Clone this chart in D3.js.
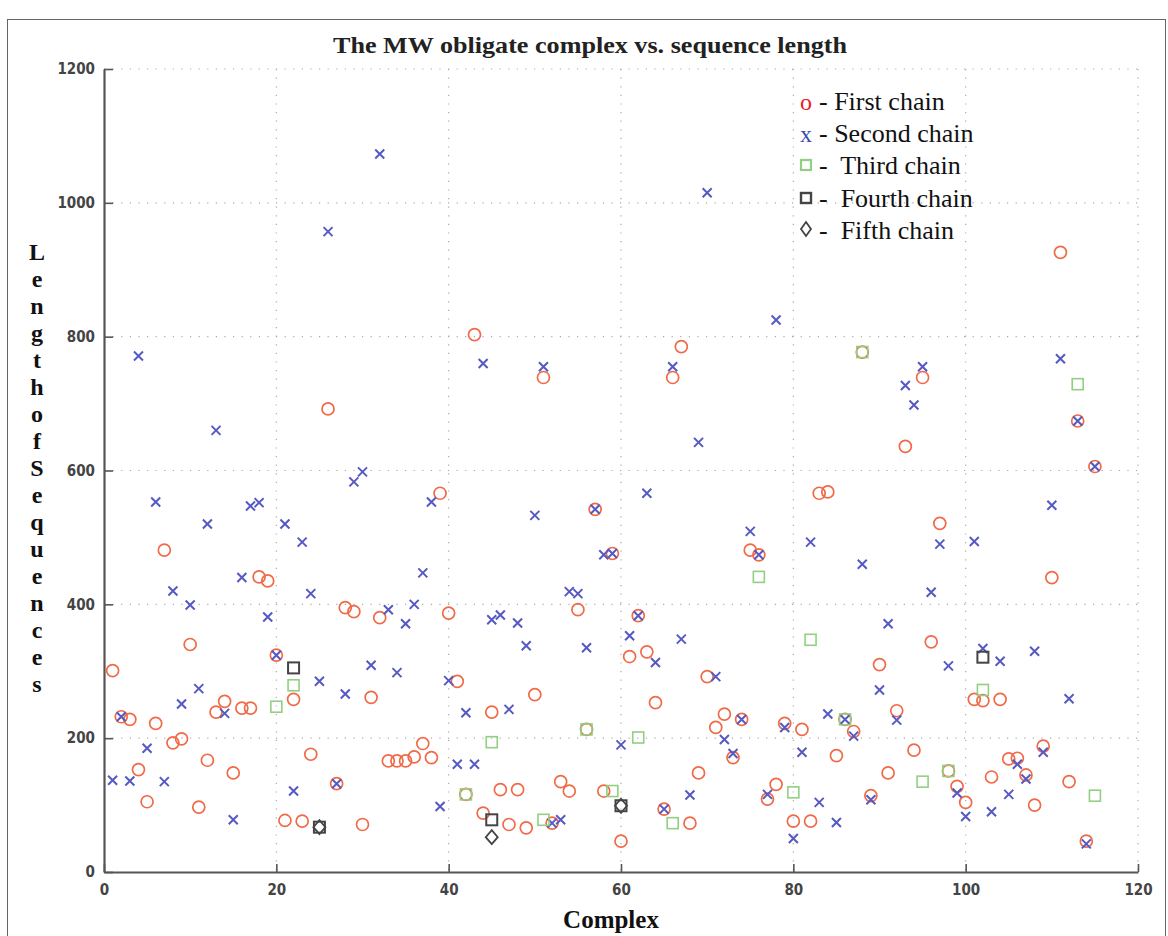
<!DOCTYPE html>
<html>
<head>
<meta charset="utf-8">
<script src="https://cdn.jsdelivr.net/npm/d3@7"></script>
<style>
  body { margin: 0; background: #fff; }
  .tick text { font-family: "DejaVu Sans Condensed", "Liberation Sans Narrow", sans-serif; font-weight: bold; font-size: 15px; fill: #444; }
</style>
</head>
<body>
<div class="vis-scatter"></div>
<script>
// complex index (x) and chain lengths (y)
const complexIds = [1,2,3,4,5,6,7,8,9,10,11,12,13,14,15,16,17,18,19,20,21,22,23,24,25,26,27,28,29,30,
  31,32,33,34,35,36,37,38,39,40,41,42,43,44,45,46,47,48,49,50,51,52,53,54,55,56,57,58,59,60,
  61,62,63,64,65,66,67,68,69,70,71,72,73,74,75,76,77,78,79,80,81,82,83,84,85,86,87,88,89,90,
  91,92,93,94,95,96,97,98,99,100,101,102,103,104,105,106,107,108,109,110,111,112,113,114,115];

const firstChain = [301,232,228,153,105,222,481,193,199,340,97,167,239,255,148,245,245,441,435,324,
  77,258,76,176,null,692,132,395,389,71,261,380,166,166,166,172,192,171,566,387,
  285,116,803,88,239,123,71,123,66,265,739,73,135,121,392,213,542,121,476,46,
  322,383,329,253,94,739,785,73,148,292,216,236,171,228,481,474,109,131,222,76,
  213,76,566,568,174,228,210,777,114,310,148,241,636,182,739,344,521,151,128,104,
  258,256,142,258,169,170,145,100,188,440,926,135,674,46,606];

const secondChain = [137,232,136,771,185,553,135,420,251,399,274,520,660,237,78,440,547,552,381,324,
  520,121,493,416,285,957,132,266,583,598,309,1073,392,298,371,400,447,553,98,286,
  161,238,161,760,377,384,243,372,338,533,755,73,78,419,416,335,542,474,476,190,
  353,383,566,313,94,755,348,115,642,1015,292,198,177,228,509,474,116,825,216,50,
  179,493,104,236,74,228,203,460,108,272,371,227,727,698,755,418,490,308,118,83,
  494,334,90,315,116,161,139,330,179,548,767,259,674,42,606];

const thirdX = [20,22,42,45,51,56,59,62,66,76,80,82,86,88,95,98,102,113,115];
const thirdY = [247,279,116,194,78,213,121,201,73,441,119,347,228,777,135,151,272,729,114];

const fourthX = [22,25,45,60,102];
const fourthY = [305,67,78,99,321];

const fifthX = [25,45,60];
const fifthY = [67,52,99];

const xTicks = [0,20,40,60,80,100,120];
const yTicks = [0,200,400,600,800,1000,1200];

const yLabelLetters = ['L','e','n','g','t','h','o','f','S','e','q','u','e','n','c','e','s'];

const draw = () => {
  const W = 1168, H = 936;
  const margin = { top: 69, right: 30, bottom: 64, left: 104 };
  const width = W - margin.left - margin.right;
  const height = H - margin.top - margin.bottom;

  const root = d3.select('.vis-scatter')
    .append('svg')
    .attr('width', W)
    .attr('height', H);

  // outer frame
  root.append('rect')
    .attr('x', 7.5).attr('y', 19.5)
    .attr('width', 1158).attr('height', 940)
    .attr('fill', 'none').attr('stroke', '#666').attr('stroke-width', 1);

  const svg = root.append('g')
    .attr('transform', `translate(${margin.left},${margin.top})`);

  const x = d3.scaleLinear().domain([0, 120]).range([0, width]);
  const y = d3.scaleLinear().domain([0, 1200]).range([height, 0]);

  // grid
  svg.append('g').selectAll('line')
    .data(xTicks.filter((d) => d > 0))
    .enter().append('line')
    .attr('x1', (d) => x(d)).attr('x2', (d) => x(d))
    .attr('y1', 0).attr('y2', height)
    .attr('stroke', '#aaa').attr('stroke-width', 1.2)
    .attr('stroke-dasharray', '1.2,7.4');
  svg.append('g').selectAll('line')
    .data(yTicks.filter((d) => d > 0))
    .enter().append('line')
    .attr('x1', 0).attr('x2', width)
    .attr('y1', (d) => y(d)).attr('y2', (d) => y(d))
    .attr('stroke', '#aaa').attr('stroke-width', 1.2)
    .attr('stroke-dasharray', '1.2,7.4');

  // axes
  const xAxis = svg.append('g')
    .attr('transform', `translate(0,${height})`)
    .call(d3.axisBottom(x).tickValues(xTicks).tickFormat(d3.format('d'))
      .tickSizeInner(-8).tickSizeOuter(0).tickPadding(12));
  const yAxis = svg.append('g')
    .call(d3.axisLeft(y).tickValues(yTicks).tickFormat(d3.format('d'))
      .tickSizeInner(-9).tickSizeOuter(0).tickPadding(9));
  [xAxis, yAxis].forEach((a) => {
    a.select('.domain').attr('stroke', '#555').attr('stroke-width', 2.2);
    a.selectAll('.tick line').attr('stroke', '#555').attr('stroke-width', 1.6);
  });

  // first chain: circles
  const first = complexIds.map((c, i) => ({ c, v: firstChain[i] })).filter((d) => d.v !== null);
  svg.append('g').selectAll('circle')
    .data(first)
    .enter().append('circle')
    .attr('cx', (d) => x(d.c)).attr('cy', (d) => y(d.v))
    .attr('r', 6)
    .attr('fill', 'none').attr('stroke', '#f06a48').attr('stroke-width', 1.7);

  // second chain: crosses
  const second = complexIds.map((c, i) => ({ c, v: secondChain[i] }));
  svg.append('g').selectAll('path')
    .data(second)
    .enter().append('path')
    .attr('d', 'M-4.5,-4.5L4.5,4.5M-4.5,4.5L4.5,-4.5')
    .attr('transform', (d) => `translate(${x(d.c)},${y(d.v)})`)
    .attr('stroke', '#5559c2').attr('stroke-width', 2).attr('fill', 'none');

  // third chain: green squares
  svg.append('g').selectAll('rect')
    .data(thirdX.map((c, i) => ({ c, v: thirdY[i] })))
    .enter().append('rect')
    .attr('x', (d) => x(d.c) - 5.5).attr('y', (d) => y(d.v) - 5.5)
    .attr('width', 11).attr('height', 11)
    .attr('fill', 'none').attr('stroke', '#92cf82').attr('stroke-width', 1.6);

  // fourth chain: dark squares
  svg.append('g').selectAll('rect')
    .data(fourthX.map((c, i) => ({ c, v: fourthY[i] })))
    .enter().append('rect')
    .attr('x', (d) => x(d.c) - 5.5).attr('y', (d) => y(d.v) - 5.5)
    .attr('width', 11).attr('height', 11)
    .attr('fill', 'none').attr('stroke', '#444').attr('stroke-width', 2);

  // fifth chain: diamonds
  svg.append('g').selectAll('path')
    .data(fifthX.map((c, i) => ({ c, v: fifthY[i] })))
    .enter().append('path')
    .attr('d', 'M0,-7L6,0L0,7L-6,0Z')
    .attr('transform', (d) => `translate(${x(d.c)},${y(d.v)})`)
    .attr('fill', 'none').attr('stroke', '#444').attr('stroke-width', 1.8);

  // title
  root.append('text')
    .attr('x', 590).attr('y', 53)
    .attr('text-anchor', 'middle')
    .attr('font-family', '"Liberation Serif", serif')
    .attr('font-weight', 'bold')
    .attr('font-size', 23)
    .attr('textLength', 514).attr('lengthAdjust', 'spacingAndGlyphs')
    .attr('fill', '#222')
    .text('The MW obligate complex vs. sequence length');

  // x label
  root.append('text')
    .attr('x', 611).attr('y', 928)
    .attr('text-anchor', 'middle')
    .attr('font-family', '"Liberation Serif", serif')
    .attr('font-weight', 'bold')
    .attr('font-size', 25)
    .attr('fill', '#111')
    .text('Complex');

  // y label, stacked letters
  root.append('g').selectAll('text')
    .data(yLabelLetters)
    .enter().append('text')
    .attr('x', 37).attr('y', (d, i) => 260 + i * 27)
    .attr('text-anchor', 'middle')
    .attr('font-family', '"Liberation Serif", serif')
    .attr('font-weight', 'bold')
    .attr('font-size', 24)
    .attr('fill', '#111')
    .text((d) => d);

  // legend
  const legend = root.append('g')
    .attr('font-family', '"Liberation Serif", serif')
    .attr('font-size', 26)
    .attr('fill', '#111');
  const rows = [110, 142, 174, 207, 239];
  legend.append('text').attr('x', 806).attr('y', rows[0]).attr('text-anchor', 'middle')
    .attr('fill', '#e8202a').attr('font-size', 24).text('o');
  legend.append('text').attr('x', 806).attr('y', rows[1]).attr('text-anchor', 'middle')
    .attr('fill', '#3a4ab0').attr('font-size', 24).text('x');
  legend.append('rect').attr('x', 801).attr('y', rows[2] - 14).attr('width', 10).attr('height', 10)
    .attr('fill', 'none').attr('stroke', '#92cf82').attr('stroke-width', 2.2);
  legend.append('rect').attr('x', 801).attr('y', rows[3] - 14).attr('width', 10).attr('height', 10)
    .attr('fill', 'none').attr('stroke', '#444').attr('stroke-width', 2.4);
  legend.append('path').attr('d', `M806,${rows[4] - 17}L811,${rows[4] - 10}L806,${rows[4] - 3}L801,${rows[4] - 10}Z`)
    .attr('fill', 'none').attr('stroke', '#444').attr('stroke-width', 1.8);
  const labels = ['- First chain', '- Second chain', '-  Third chain', '-  Fourth chain', '-  Fifth chain'];
  labels.forEach((t, i) => {
    legend.append('text').attr('x', 819).attr('y', rows[i])
      .attr('xml:space', 'preserve').style('white-space', 'pre').text(t);
  });
};

draw();
</script>
</body>
</html>
